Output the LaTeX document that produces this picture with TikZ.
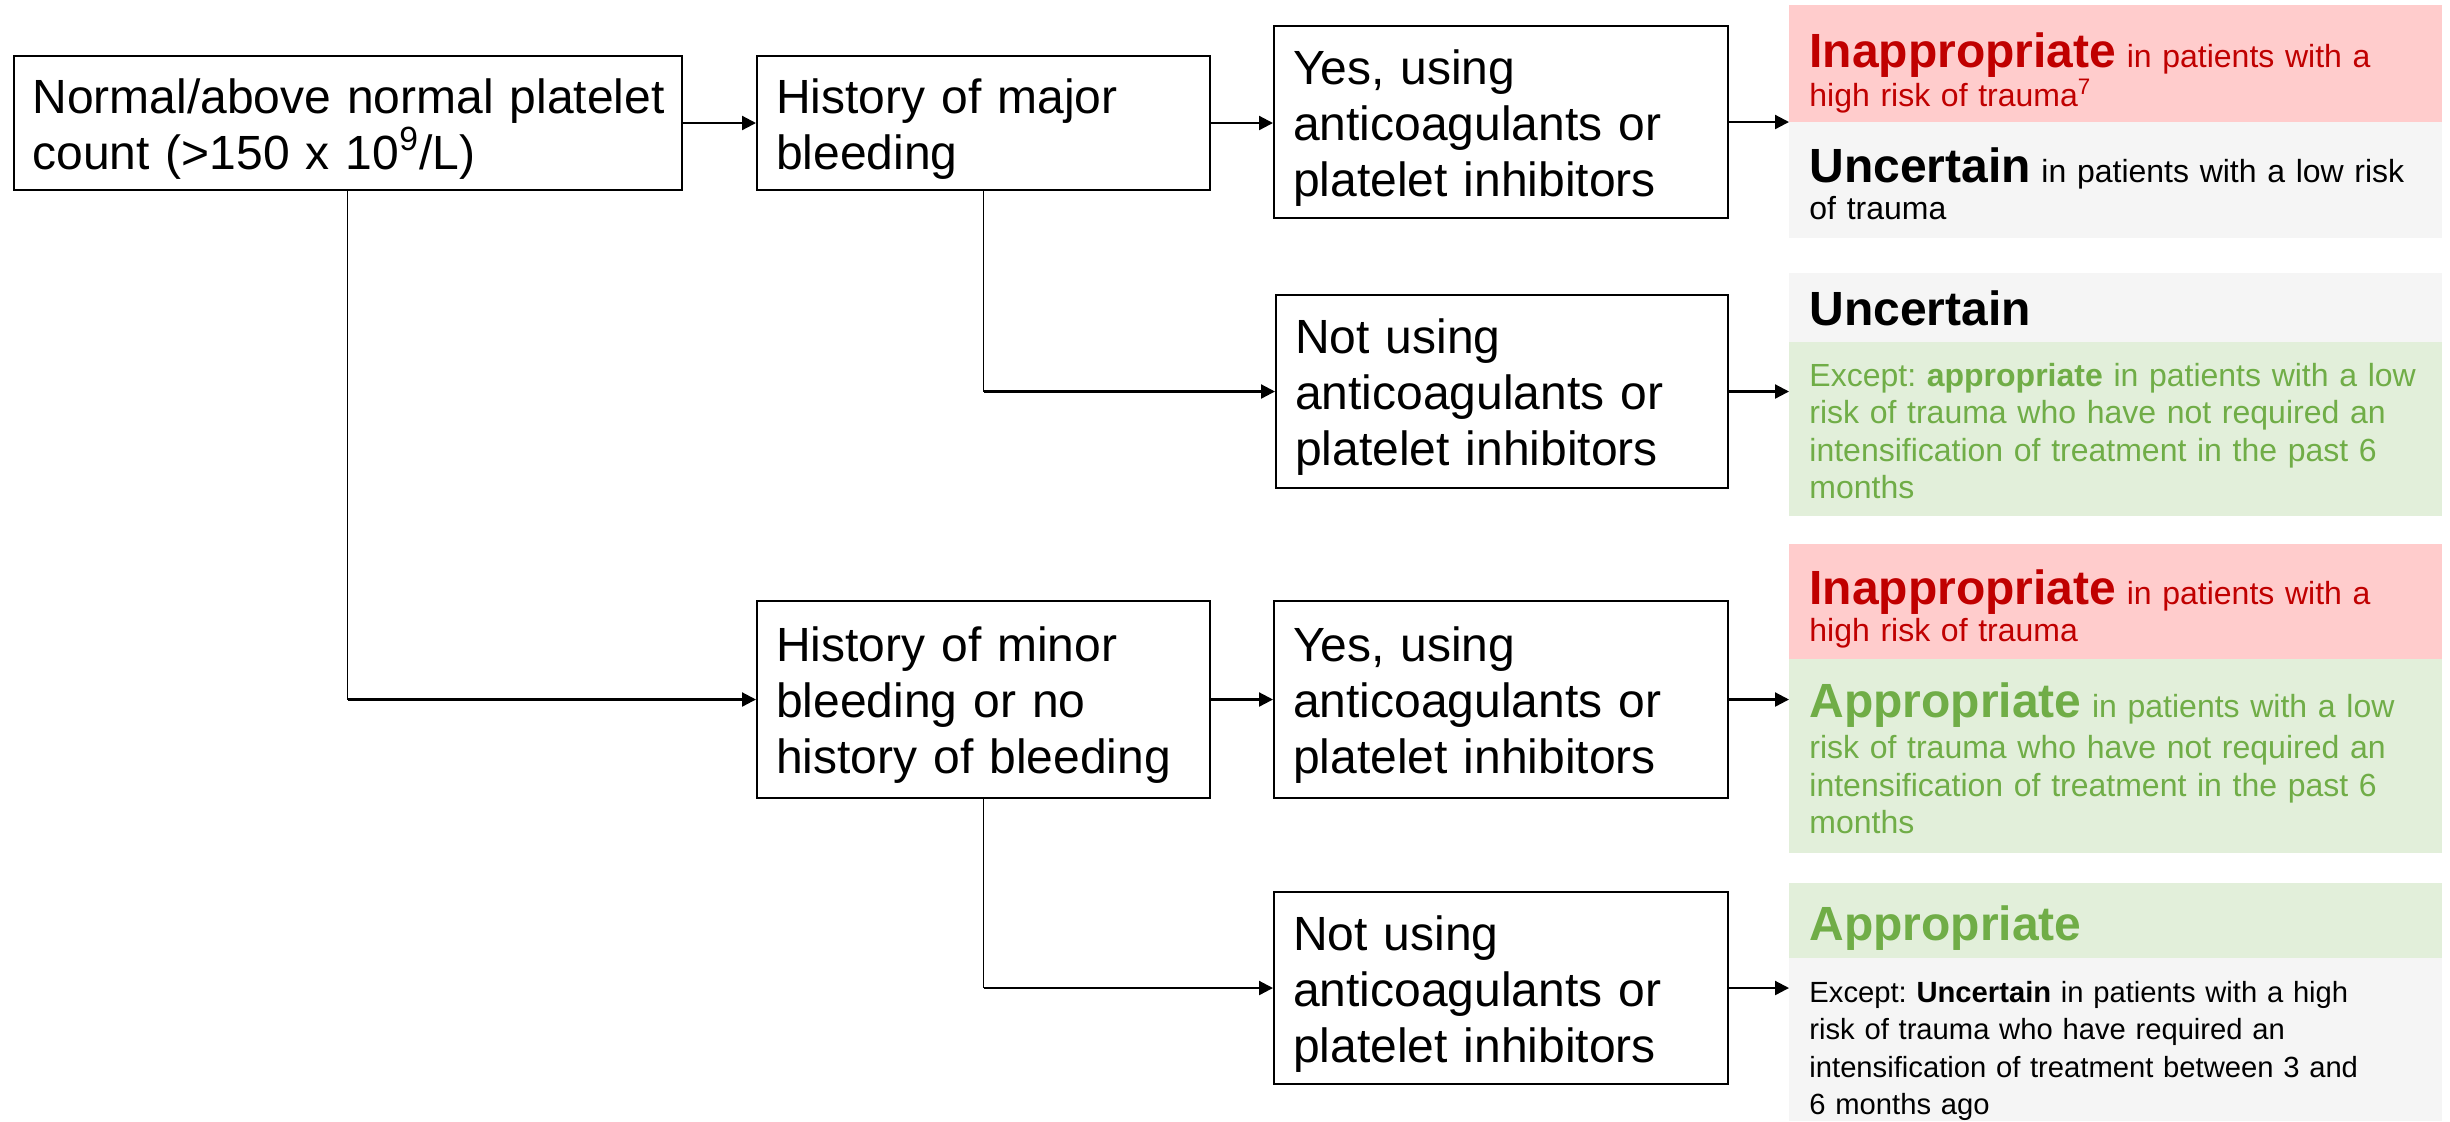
\documentclass[tikz,border=0pt]{standalone}
\usepackage{fontspec}
\setmainfont{Liberation Sans}
\usetikzlibrary{arrows.meta}
\definecolor{redbg}{HTML}{FFCCCC}
\definecolor{redtx}{HTML}{C00000}
\definecolor{greenbg}{HTML}{E2EFDA}
\definecolor{greentx}{HTML}{70AD47}
\definecolor{graybg}{HTML}{F5F5F5}
\newcommand{\bigb}{\fontsize{24}{28}\bfseries\selectfont}
\newcommand{\tstrut}{\rule{0pt}{23pt}}
\frenchspacing
\tikzset{
  box/.style={draw, line width=1pt, inner xsep=9.5pt, inner ysep=0pt, align=left,
    anchor=north west, font=\fontsize{24}{28}\selectfont},
  panel/.style={draw=none, inner sep=0pt, anchor=north west, minimum width=326.5pt},
  ptext/.style={inner sep=0pt, anchor=base west, align=left, text width=312pt,
    font=\fontsize{16}{18.75}\selectfont},
  conn/.style={line width=1.1pt, -{Triangle[length=7pt,width=7pt]}},
  vline/.style={line width=0.65pt}
}
\begin{document}
\begin{tikzpicture}[x=0.5pt,y=-0.5pt]
\useasboundingbox (0,0) rectangle (2450,1121);

% decision boxes
\node[box, text width=315.25pt, minimum height=67pt] (A) at (12.5,55)
  {\tstrut\mbox{Normal/above normal platelet}\\count (>150 x 10\textsuperscript{9}/L)};
\node[box, text width=207.5pt, minimum height=67pt] (B) at (756,55)
  {\tstrut History of major\\bleeding};
\node[box, text width=208pt, minimum height=96pt] (C) at (1273,25)
  {\tstrut Yes, using\\anticoagulants or\\platelet inhibitors};
\node[box, text width=207pt, minimum height=96.5pt] (D) at (1275,294)
  {\tstrut Not using\\anticoagulants or\\platelet inhibitors};
\node[box, text width=207.5pt, minimum height=98.5pt] (E) at (756,600)
  {\tstrut History of minor\\bleeding or no\\history of bleeding};
\node[box, text width=208pt, minimum height=98.5pt] (F) at (1273,600)
  {\tstrut Yes, using\\anticoagulants or\\platelet inhibitors};
\node[box, text width=208pt, minimum height=96pt] (G) at (1273,891)
  {\tstrut Not using\\anticoagulants or\\platelet inhibitors};

% result panels
\node[panel, fill=redbg, minimum height=58.5pt] (r1a) at (1789,5) {};
\node[panel, fill=graybg, minimum height=58pt] (r1b) at (1789,122) {};
\node[panel, fill=graybg, minimum height=34.5pt] (r2a) at (1789,273) {};
\node[panel, fill=greenbg, minimum height=87pt] (r2b) at (1789,342) {};
\node[panel, fill=redbg, minimum height=57.5pt] (r3a) at (1789,544) {};
\node[panel, fill=greenbg, minimum height=97pt] (r3b) at (1789,659) {};
\node[panel, fill=greenbg, minimum height=37.5pt] (r4a) at (1789,883) {};
\node[panel, fill=graybg, minimum height=81.5pt] (r4b) at (1789,958) {};

\node[ptext, text=redtx] (t1a) at (1809,67)
  {{\bigb Inappropriate }in patients with a\\high risk of trauma\textsuperscript{7}};
\node[ptext] (t1b) at (1809,182)
  {{\bigb Uncertain }in patients with a low risk\\of trauma};
\node[ptext] (t2a) at (1809,325) {{\bigb Uncertain}};
\node[ptext, text=greentx] (t2b) at (1809,386)
  {Except: \textbf{appropriate} in patients with a low\\risk of trauma who have not required an\\intensification of treatment in the past 6\\months};
\node[ptext, text=redtx] (t3a) at (1809,604)
  {{\bigb Inappropriate }in patients with a\\high risk of trauma};
\node[ptext, text=greentx] (t3b) at (1809,717)
  {{\bigb Appropriate }in patients with a low\\[2pt]risk of trauma who have not required an\\intensification of treatment in the past 6\\months};
\node[ptext, text=greentx] (t4a) at (1809,940) {{\bigb Appropriate}};
\node[ptext, font=\fontsize{14.6}{18.75}\selectfont] (t4b) at (1809,1002)
  {Except: \textbf{Uncertain} in patients with a high\\risk of trauma who have required an\\intensification of treatment between 3 and\\6 months ago};

% connectors
\draw[conn] (A.east) -- (A.east -| B.west);
\draw[conn] (B.east) -- (B.east -| C.west);
\draw[conn] (C.east) -- (C.east -| r1a.west);
\draw[vline] (B.south) -- (B.south |- D.west);
\draw[conn] (B.south |- D.west) -- (D.west);
\draw[conn] (D.east) -- (D.east -| r2b.west);
\draw[vline] (A.south) -- (A.south |- E.west);
\draw[conn] (A.south |- E.west) -- (E.west);
\draw[conn] (E.east) -- (F.west);
\draw[conn] (F.east) -- (F.east -| r3b.west);
\draw[vline] (E.south) -- (E.south |- G.west);
\draw[conn] (E.south |- G.west) -- (G.west);
\draw[conn] (G.east) -- (G.east -| r4b.west);
\end{tikzpicture}
\end{document}
